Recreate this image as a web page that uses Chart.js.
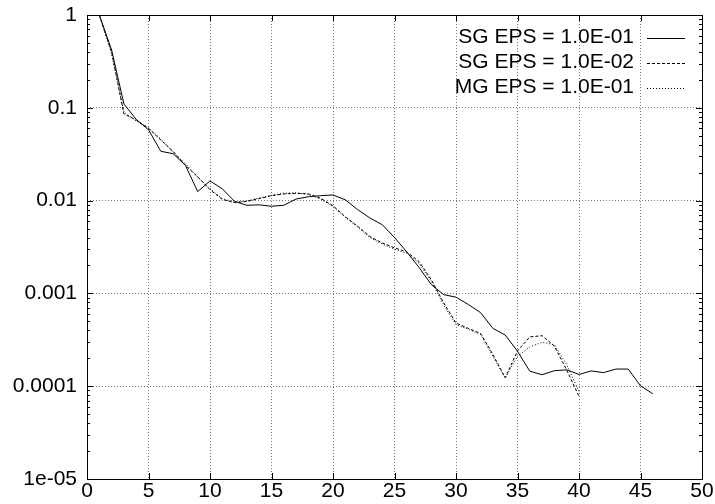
<!DOCTYPE html>
<html>
<head>
<meta charset="utf-8">
<script src="https://cdn.jsdelivr.net/npm/chart.js@4/dist/chart.umd.min.js"></script>
<style>
  html, body { margin: 0; padding: 0; background: #fff; }
  #wrap { width: 715px; height: 504px; }
</style>
</head>
<body>
<div id="wrap"><canvas id="grafica"></canvas></div>
<script>
// datos
const iteraciones = [1,2,3,4,5,6,7,8,9,10,11,12,13,14,15,16,17,18,19,20,21,22,23,24,25,26,27,28,29,30,31,32,33,34,35,36,37,38,39,40,41,42,43,44,45,46];
const sgEps1 = [1, 0.42, 0.11, 0.075, 0.058, 0.034, 0.032, 0.024, 0.0125, 0.0163,
  0.0134, 0.0098, 0.0089, 0.009, 0.0087, 0.0089, 0.0104, 0.011, 0.0113, 0.0115,
  0.0102, 0.008, 0.0065, 0.0055, 0.004, 0.0028, 0.0019, 0.00124, 0.00097, 0.00091,
  0.00076, 0.00062, 0.00042, 0.000356, 0.000238, 0.000145, 0.000133, 0.000147, 0.00015, 0.000134,
  0.000146, 0.00014, 0.000153, 0.000153, 0.000101, 0.000083];
const sgEps2 = [1, 0.40, 0.086, 0.074, 0.06, 0.045, 0.034, 0.024, 0.018, 0.0131,
  0.0103, 0.0095, 0.0098, 0.0105, 0.0113, 0.0118, 0.012, 0.0118, 0.0106, 0.0088,
  0.0067, 0.0053, 0.0041, 0.0035, 0.0031, 0.0028, 0.0022, 0.0014, 0.00079, 0.00048,
  0.00042, 0.00037, 0.00022, 0.000123, 0.00024, 0.00034, 0.00035, 0.00027, 0.000149, 0.000078];
const mgEps1 = [1, 0.38, 0.09, 0.072, 0.061, 0.046, 0.033, 0.025, 0.018, 0.0135,
  0.0105, 0.0096, 0.0099, 0.0107, 0.0114, 0.012, 0.0121, 0.0117, 0.0104, 0.0086,
  0.0066, 0.0052, 0.004, 0.0034, 0.003, 0.0027, 0.0021, 0.00135, 0.00075, 0.00046,
  0.00041, 0.00036, 0.00021, 0.000123, 0.00021, 0.000265, 0.000297, 0.00028, 0.00017, 0.000088];

const etiquetasSerie = ["SG EPS = 1.0E-01", "SG EPS = 1.0E-02", "MG EPS = 1.0E-01"];
const ticksY = [1, 0.1, 0.01, 0.001, 0.0001, 0.00001];
const etiquetasY = ["1", "0.1", "0.01", "0.001", "0.0001", "1e-05"];
const ticksX = [0, 5, 10, 15, 20, 25, 30, 35, 40, 45, 50];

const fuente = "'Liberation Sans', Arial, sans-serif";
const puntos = (vals) => vals.map((v, i) => ({x: iteraciones[i], y: v}));

// marco, marcas internas y leyenda al estilo gnuplot
const marcoPlugin = {
  id: 'marco',
  afterDatasetsDraw(chart) {
    const {ctx, chartArea: a, scales: {x, y}} = chart;
    ctx.save();
    ctx.strokeStyle = '#000';
    ctx.lineWidth = 1;
    ctx.beginPath();
    ticksX.forEach(v => {
      const px = Math.round(x.getPixelForValue(v)) + 0.5;
      ctx.moveTo(px, a.bottom); ctx.lineTo(px, a.bottom - 6);
      ctx.moveTo(px, a.top); ctx.lineTo(px, a.top + 6);
    });
    for (let e = -5; e <= 0; e++) {
      const base = Math.pow(10, e);
      const py = Math.round(y.getPixelForValue(base)) + 0.5;
      ctx.moveTo(a.left, py); ctx.lineTo(a.left + 6, py);
      ctx.moveTo(a.right, py); ctx.lineTo(a.right - 6, py);
      if (e < 0) {
        for (let m = 2; m <= 9; m++) {
          const pm = Math.round(y.getPixelForValue(base * m)) + 0.5;
          ctx.moveTo(a.left, pm); ctx.lineTo(a.left + 3, pm);
          ctx.moveTo(a.right, pm); ctx.lineTo(a.right - 3, pm);
        }
      }
    }
    ctx.stroke();
    ctx.strokeRect(Math.round(a.left) + 0.5, Math.round(a.top) + 0.5,
      Math.round(a.right - a.left), Math.round(a.bottom - a.top));

    // leyenda
    ctx.font = "21px " + fuente;
    ctx.fillStyle = '#000';
    ctx.textAlign = 'right';
    ctx.textBaseline = 'middle';
    chart.data.datasets.forEach((ds, i) => {
      const ty = 37 + i * 25;
      ctx.fillText(ds.label, 634, ty);
      ctx.beginPath();
      ctx.setLineDash(ds.borderDash || []);
      ctx.moveTo(647, Math.round(ty) + 1.5);
      ctx.lineTo(685, Math.round(ty) + 1.5);
      ctx.stroke();
    });
    ctx.restore();
  }
};

new Chart(document.getElementById('grafica'), {
  type: 'line',
  data: {
    datasets: [
      {label: etiquetasSerie[0], data: puntos(sgEps1), borderColor: '#000', borderWidth: 1, borderDash: []},
      {label: etiquetasSerie[1], data: puntos(sgEps2), borderColor: '#000', borderWidth: 1, borderDash: [3, 2]},
      {label: etiquetasSerie[2], data: puntos(mgEps1), borderColor: '#000', borderWidth: 1, borderDash: [1, 2]}
    ]
  },
  options: {
    responsive: true,
    maintainAspectRatio: false,
    animation: false,
    devicePixelRatio: 1,
    layout: {padding: {top: 15, right: 13, left: 0, bottom: 0}},
    elements: {point: {radius: 0}, line: {tension: 0}},
    plugins: {legend: {display: false}, tooltip: {enabled: false}},
    scales: {
      x: {
        type: 'linear',
        min: 0, max: 50,
        afterBuildTicks: (s) => { s.ticks = ticksX.map(v => ({value: v})); },
        afterFit: (s) => { s.height = 25; s.paddingLeft = 0; s.paddingRight = 0; },
        grid: {color: '#777', lineWidth: 1, drawTicks: false},
        border: {display: false, dash: [1, 2]},
        ticks: {color: '#000', padding: 0, maxRotation: 0, font: {family: fuente, size: 21}}
      },
      y: {
        type: 'logarithmic',
        min: 0.00001, max: 1,
        afterBuildTicks: (s) => { s.ticks = ticksY.map(v => ({value: v})); },
        afterFit: (s) => { s.width = 87; s.paddingTop = 0; s.paddingBottom = 0; },
        grid: {color: '#777', lineWidth: 1, drawTicks: false},
        border: {display: false, dash: [1, 2]},
        ticks: {
          color: '#000', padding: 10, font: {family: fuente, size: 21},
          callback: (v) => { const i = ticksY.indexOf(v); return i >= 0 ? etiquetasY[i] : ''; }
        }
      }
    }
  },
  plugins: [marcoPlugin]
});
</script>
</body>
</html>
